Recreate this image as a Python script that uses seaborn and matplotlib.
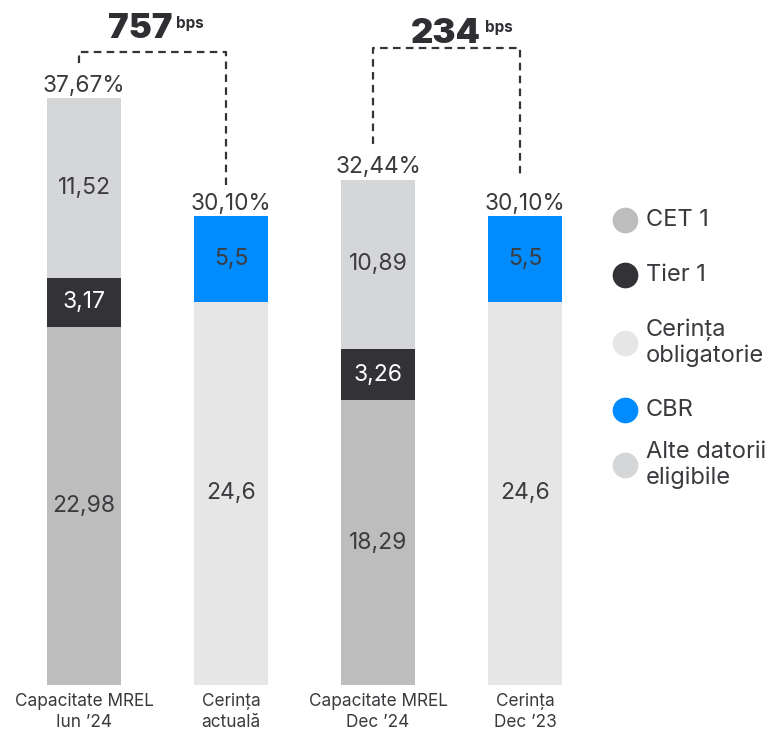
import matplotlib
matplotlib.use("Agg")
import matplotlib.pyplot as plt
import seaborn as sns
import pandas as pd

# --- data -------------------------------------------------------------
bars = ["Capacitate MREL\nIun \u201924", "Cerin\u021ba\nactual\u0103",
        "Capacitate MREL\nDec \u201924", "Cerin\u021ba\nDec \u201923"]
cet1 = [22.98, 0, 18.29, 0]
tier1 = [3.17, 0, 3.26, 0]
cerinta_oblig = [0, 24.6, 0, 24.6]
cbr = [0, 5.5, 0, 5.5]
alte = [11.52, 0, 10.89, 0]
totals = ["37,67%", "30,10%", "32,44%", "30,10%"]
gaps = ["757", "234"]
legend_labels = ["CET 1", "Tier 1", "Cerin\u021ba\nobligatorie", "CBR", "Alte datorii\neligibile"]

# segments in stacking order (bottom -> top)
segments = [
    ("CET 1", cet1, "#bdbdbd", "#3c3c40"),
    ("Cerin\u021ba obligatorie", cerinta_oblig, "#e6e6e6", "#3c3c40"),
    ("Tier 1", tier1, "#323237", "white"),
    ("CBR", cbr, "#008cff", "#3c3c40"),
    ("Alte datorii eligibile", alte, "#d5d6d8", "#3c3c40"),
]

rows = []
running = [0.0] * len(bars)
for name, vals, col, tcol in segments:
    for i, v in enumerate(vals):
        if v > 0:
            rows.append(dict(bar=bars[i], seg=name, bottom=running[i],
                             value=v, top=running[i] + v))
            running[i] += v
df = pd.DataFrame(rows)

colors = {name: col for name, _, col, _ in segments}
txtcol = {name: t for name, _, _, t in segments}

plt.rcParams["font.family"] = ["Inter", "DejaVu Sans"]
fig = plt.figure(figsize=(7.71, 7.32), dpi=100)
W, H = 771, 732
ax = fig.add_axes([3.15 / W, 47 / H, 602.7 / W, 677.7 / H])

# cumulative tops, tallest drawn first so lower segments sit on top
hue_order = list(df.sort_values("top", ascending=False)["seg"].drop_duplicates())
sns.barplot(data=df, x="bar", y="top", hue="seg", hue_order=hue_order,
            order=bars, palette=colors, dodge=False, width=0.5,
            saturation=1, legend=False, ax=ax, linewidth=0)

ax.set_xlim(-0.55, 3.55)
ax.set_ylim(0, 43.5)
ax.set_ylabel("")
ax.set_xlabel("")
ax.set_yticks([])
for s in ax.spines.values():
    s.set_visible(False)
ax.tick_params(axis="x", length=0, pad=5.5, labelsize=12.4, labelcolor="#3a3a3e")
for lbl in ax.get_xticklabels():
    lbl.set_linespacing(1.3)

# segment value labels
for _, r in df.iterrows():
    i = bars.index(r["bar"])
    ax.text(i, r["bottom"] + r["value"] / 2, f"{r['value']:g}".replace(".", ","),
            ha="center", va="center", fontsize=16.5, color=txtcol[r["seg"]])

# total labels above the bars
for i, t in enumerate(totals):
    ax.annotate(t, (i, running[i]), xytext=(0, 4.5), textcoords="offset points",
                ha="center", va="baseline", fontsize=16.3, color="#3a3a3e")

# dashed brackets with the gap in basis points
dash = dict(color="#333338", lw=1.6, linestyle=(0, (3.4, 2.4)), clip_on=False)
brackets = [(0, 1, 40.6, 39.9, 32.1), (2, 3, 40.9, 34.7, 32.6)]
label_y = [41.5, 41.2]
label_dx = [-0.08, 0.0]
for (a, b, yh, ya, yb), g, ly, dx in zip(brackets, gaps, label_y, label_dx):
    xa, xb = a - 0.035, b - 0.035
    ax.plot([xa, xa, xb, xb], [ya, yh, yh, yb], **dash)
    xm = (xa + xb) / 2
    t = ax.text(xm + dx, ly, g, ha="center", va="baseline", fontsize=25,
                fontweight="black", color="#2e2e33")
    ax.annotate("bps", xy=(1, 1), xycoords=t, xytext=(2.5, -1.5),
                textcoords="offset points", ha="left", va="top",
                fontsize=11, fontweight="bold", color="#2e2e33")

# legend drawn in figure pixel coordinates
leg_y = [220, 275, 343, 410, 465]
leg_c = ["#bdbdbd", "#323237", "#e6e6e6", "#008cff", "#d5d6d8"]
for lab, y, c in zip(legend_labels, leg_y, leg_c):
    fig.lines.append(plt.Line2D([625 / W], [1 - y / H], marker="o", markersize=18.5,
                                color=c, markeredgewidth=0, transform=fig.transFigure,
                                figure=fig))
    fig.text(646 / W, 1 - y / H, lab, ha="left", va="center", fontsize=17,
             color="#3a3a3e", linespacing=1.2)

fig.savefig("out.png", dpi=100)
